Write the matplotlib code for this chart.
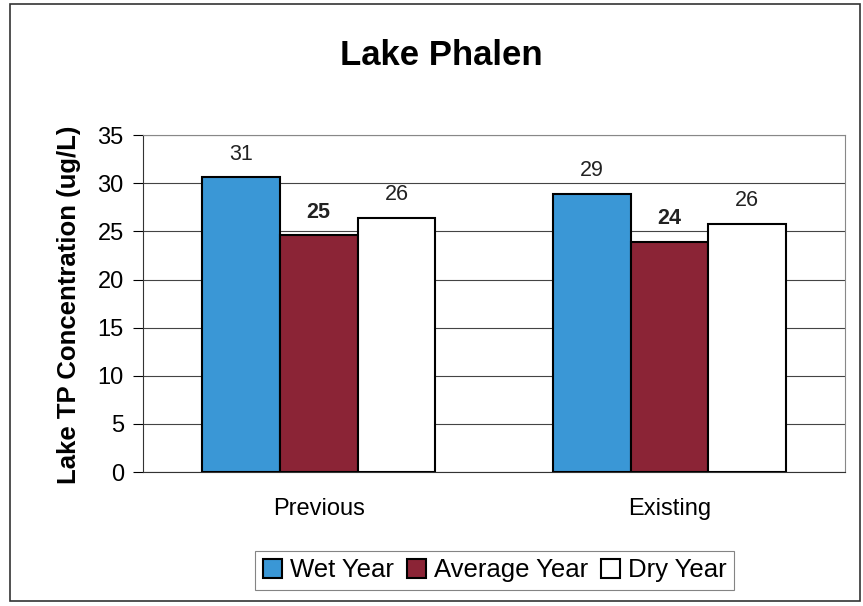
import matplotlib
matplotlib.use("Agg")
import matplotlib.pyplot as plt
from matplotlib.patches import Rectangle

categories = ["Previous", "Existing"]
series_names = ["Wet Year", "Average Year", "Dry Year"]
wet = [30.6, 28.9]
average = [24.6, 23.9]
dry = [26.4, 25.8]
labels = [["31", "29"], ["25", "24"], ["26", "26"]]
colors = ["#3a97d6", "#8b2436", "#ffffff"]

fig = plt.figure(figsize=(8.63, 6.06), dpi=100)
fig.patches.append(Rectangle((0.012, 0.008), 0.985, 0.985, transform=fig.transFigure,
                             fill=False, edgecolor="#333333", linewidth=1.2))
ax = fig.add_axes([0.166, 0.221, 0.813, 0.556])

w = 0.222
values = [wet, average, dry]
for i, (name, vals, c) in enumerate(zip(series_names, values, colors)):
    xs = [k + (i - 1) * w for k in range(len(categories))]
    ax.bar(xs, vals, width=w, color=c, edgecolor="black", linewidth=1.5, label=name, zorder=3)
    for x, v, lab in zip(xs, vals, labels[i]):
        weight = "bold" if i == 1 else "normal"
        ax.text(x, v + 1.3, lab, ha="center", va="bottom", fontsize=15.5,
                fontweight=weight, color="#222222", family="Liberation Sans", zorder=4)

ax.set_xlim(-0.5, 1.5)
ax.set_ylim(0, 35)
ax.set_yticks(range(0, 36, 5))
ax.set_xticks(range(len(categories)))
ax.set_xticklabels(categories, fontsize=17, family="Liberation Sans")
ax.tick_params(axis="y", labelsize=17, length=7, pad=7)
ax.tick_params(axis="x", length=0, pad=19)
for t in ax.get_yticklabels():
    t.set_family("Liberation Sans")
ax.yaxis.grid(True, color="#444444", linewidth=0.8, zorder=0)
for s in ["top", "right"]:
    ax.spines[s].set_color("#888888")
ax.spines["left"].set_color("#333333")
ax.spines["bottom"].set_color("#333333")

ax.set_ylabel("Lake TP Concentration (ug/L)", fontsize=18.5, fontweight="bold",
              family="Liberation Sans")
ax.yaxis.set_label_coords(-0.089, 0.497)
fig.text(0.511, 0.909, "Lake Phalen", ha="center", va="center", fontsize=25,
         fontweight="bold", family="Liberation Sans")

leg = fig.legend(loc="center", bbox_to_anchor=(0.573, 0.059), ncol=3, frameon=True,
                 fancybox=False, edgecolor="#666666", handlelength=0.75,
                 handleheight=0.75, handletextpad=0.3, columnspacing=0.5,
                 borderpad=0.3, borderaxespad=0,
                 prop={"family": "Liberation Sans", "size": 18.5})
leg.get_frame().set_linewidth(0.8)

fig.savefig("out.png", dpi=100)
